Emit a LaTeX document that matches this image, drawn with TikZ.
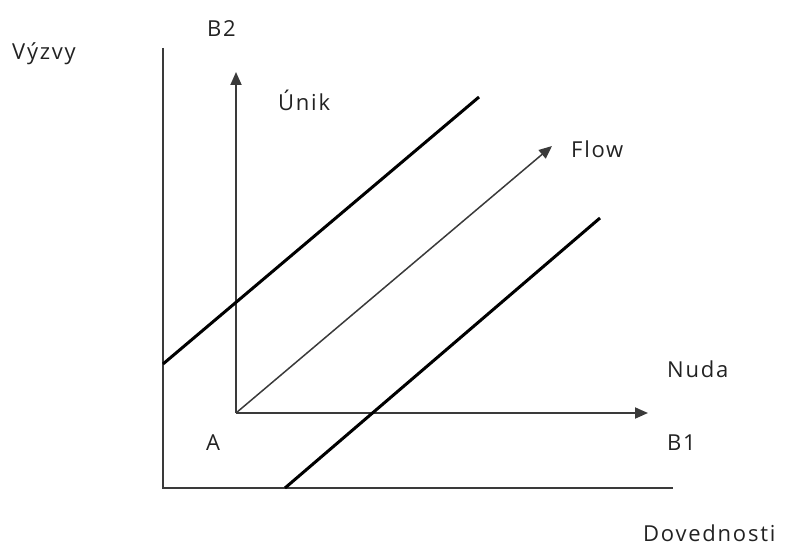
\documentclass[tikz,border=0pt]{standalone}
\usepackage{fontspec}
\setmainfont{Open Sans}[LetterSpace=8]
\usetikzlibrary{arrows.meta}
\definecolor{ink}{HTML}{222222}
\definecolor{axisgray}{HTML}{3A3A3A}
\tikzset{
  lbl/.style={anchor=base west, inner sep=0pt, text=ink, font=\fontsize{22}{26}\selectfont},
  axisline/.style={draw=axisgray, line width=2pt},
  thinarrow/.style={draw=axisgray, line width=1.8pt, -{Triangle[length=13pt,width=11pt]}},
  flowarrow/.style={draw=axisgray, line width=1.5pt, -{Triangle[length=13pt,width=11pt]}},
  boundary/.style={draw=black, line width=3pt},
}
\begin{document}
\begin{tikzpicture}[x=1pt,y=-1pt]
  \useasboundingbox (0,0) rectangle (786,548);

  % outer axes: challenges (vertical) and skills (horizontal)
  \coordinate (outerTop) at (163,48);
  \coordinate (outerOrigin) at (163,488);
  \coordinate (outerRight) at (673,488);

  % inner frame with origin A
  \coordinate (A0) at (236,413);
  \coordinate (b2tip) at (236,72);
  \coordinate (b1tip) at (648,413);
  \coordinate (flowtip) at (552,146);

  % channel boundaries
  \coordinate (upA) at (163,364);
  \coordinate (upB) at (479,97);
  \coordinate (lowA) at (285,488);
  \coordinate (lowB) at (600,218);

  \draw[axisline] (outerTop) -- (outerOrigin) -- (outerRight);
  \draw[thinarrow] (A0) -- (b2tip);
  \draw[thinarrow] (A0) -- (b1tip);
  \draw[flowarrow] (A0) -- (flowtip);
  \draw[boundary] (upA) -- (upB);
  \draw[boundary] (lowA) -- (lowB);

  \node[lbl] (vyzvy) at (12,60) {Výzvy};
  \node[lbl] (b2) at (207,37) {B2};
  \node[lbl] (unik) at (278,111) {Únik};
  \node[lbl] (flow) at (571,158) {Flow};
  \node[lbl] (nuda) at (667,377) {Nuda};
  \node[lbl] (b1) at (667,450) {B1};
  \node[lbl] (a) at (206,450) {A};
  \node[lbl] (dovednosti) at (643,541) {Dovednosti};
\end{tikzpicture}
\end{document}
